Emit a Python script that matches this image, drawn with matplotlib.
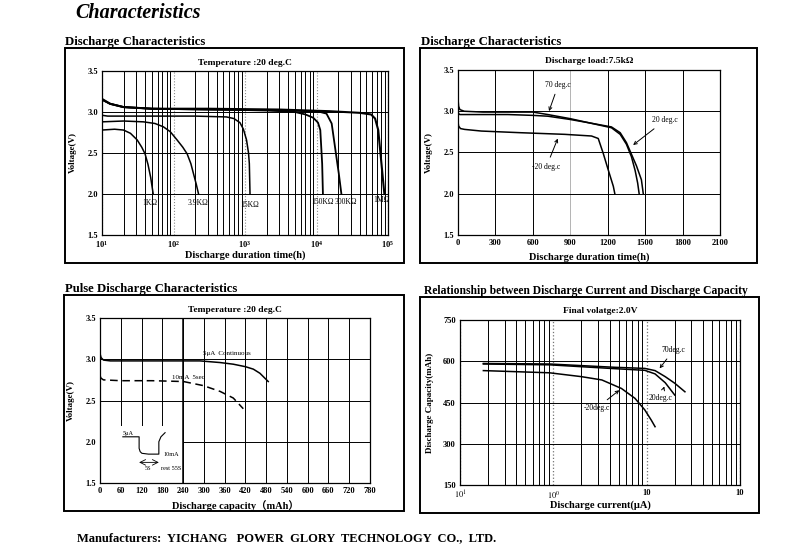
import matplotlib
matplotlib.use("Agg")
import matplotlib.pyplot as plt
from matplotlib.patches import Rectangle
from matplotlib.ticker import LogLocator, NullFormatter, FixedLocator

# ---- data

# discharge at 20 deg.C, several loads: hours, volts
r1k_t = [10, 15, 20, 25, 31, 36, 40, 44, 48, 52]
r1k_v = [2.78, 2.79, 2.78, 2.74, 2.66, 2.57, 2.49, 2.36, 2.20, 2.0]
r39k_t = [10, 20, 38, 55, 72, 90, 112, 135, 155, 175, 190, 208, 224]
r39k_v = [2.88, 2.89, 2.88, 2.86, 2.82, 2.76, 2.66, 2.57, 2.49, 2.37, 2.25, 2.12, 2.0]
r15k_t = [10, 12, 50, 200, 550, 700, 850, 950, 1050, 1120, 1150, 1175]
r15k_v = [2.96, 2.95, 2.95, 2.95, 2.94, 2.92, 2.87, 2.79, 2.66, 2.50, 2.37, 2.0]
r150k_t = [10, 13, 20, 50, 300, 2000, 5000, 7000, 9000, 10500, 11300, 12000, 12300]
r150k_v = [3.15, 3.10, 3.06, 3.04, 3.03, 3.02, 3.0, 2.97, 2.93, 2.87, 2.78, 2.37, 2.0]
r300k_t = [10, 13, 20, 50, 300, 2000, 8000, 11300, 13800, 16300, 19000, 20500, 22300]
r300k_v = [3.15, 3.10, 3.06, 3.04, 3.03, 3.02, 3.01, 3.0, 2.98, 2.86, 2.45, 2.25, 2.0]
r1m_t = [10, 13, 20, 50, 300, 3000, 15000, 40000, 58000, 66000, 73000, 81000, 89000]
r1m_v = [3.16, 3.10, 3.06, 3.04, 3.04, 3.03, 3.01, 2.99, 2.97, 2.92, 2.78, 2.37, 2.0]
load_labels = ["1KΩ", "3.9KΩ", "15KΩ", "150KΩ", "300KΩ", "1MΩ"]
load_label_t = [47, 220, 1170, 12300, 26000, 80000]
load_label_v = [1.89, 1.89, 1.87, 1.90, 1.90, 1.93]

# discharge through 7.5 kOhm at three temperatures: hours, volts
t70 = [0, 5, 15, 50, 200, 400, 600, 720, 900, 1050, 1230, 1300, 1350, 1390, 1430, 1470, 1485]
v70 = [3.15, 3.06, 3.02, 3.0, 2.99, 2.99, 2.99, 2.96, 2.91, 2.86, 2.81, 2.74, 2.62, 2.48, 2.34, 2.17, 2.0]
t20 = [0, 5, 15, 50, 200, 400, 600, 720, 900, 1050, 1230, 1300, 1350, 1390, 1420, 1440, 1452]
v20 = [3.0, 2.97, 2.96, 2.96, 2.96, 2.96, 2.95, 2.94, 2.90, 2.86, 2.80, 2.72, 2.60, 2.45, 2.28, 2.13, 2.0]
tm20 = [0, 5, 20, 53, 187, 500, 856, 1070, 1124, 1164, 1204, 1245, 1257]
vm20 = [2.87, 2.82, 2.79, 2.78, 2.76, 2.74, 2.72, 2.70, 2.67, 2.49, 2.29, 2.09, 2.0]

# pulse discharge: mAh, volts
cap_cont = [0, 3, 10, 30, 100, 200, 289, 347, 385, 420, 443, 462, 486]
v_cont = [3.07, 3.02, 2.99, 2.98, 2.98, 2.98, 2.98, 2.96, 2.94, 2.91, 2.88, 2.83, 2.73]
cap_pulse = [0, 3, 10, 60, 150, 241, 299, 347, 385, 414]
v_pulse = [2.80, 2.77, 2.75, 2.74, 2.74, 2.73, 2.68, 2.61, 2.53, 2.40]
# pulse waveform sketch in the inset
wave_x = [66, 113, 113, 116, 121, 140, 170, 170, 176, 188]
wave_v = [2.06, 2.06, 1.92, 1.88, 1.86, 1.85, 1.85, 2.0, 2.06, 2.11]

# capacity vs current at 2.0 V cut-off: uA, mAh
i70 = [0.178, 0.91, 4.57, 9.55, 12.3, 15.8, 20.0, 25.7]
c70 = [592, 590, 578, 574, 566, 544, 520, 489]
i20 = [0.178, 0.91, 4.57, 9.55, 12.3, 15.8, 20.0]
c20 = [590, 587, 573, 567, 554, 522, 477]
im20 = [0.178, 0.91, 2.0, 3.31, 5.37, 7.5, 9.55, 11.2, 12.3]
cm20 = [566, 558, 544, 532, 501, 465, 423, 386, 362]

volt_ticks = [1.5, 2.0, 2.5, 3.0, 3.5]
cap_ticks = [150, 300, 450, 600, 750]
hour_ticks = [0, 300, 600, 900, 1200, 1500, 1800, 2100]
hour_labels = ["0", "300", "600", "900", "1200", "1500", "1800", "2100"]
mah_ticks = list(range(0, 781, 60))
cur_ticks = [0.1, 1, 10, 100]
cur_labels = ["$10^{1}$", "$10^{0}$", "10", "10"]

# ---- figure, laid out in pixels of the 800x558 original
W, H = 800, 558
plt.rcParams["font.family"] = ["Liberation Serif", "Noto Sans CJK SC", "DejaVu Sans"]
plt.rcParams["mathtext.fontset"] = "stix"
fig = plt.figure(figsize=(8, 5.58), dpi=100)


def box(x0, y0, x1, y1):
    return [x0 / W, 1 - y1 / H, (x1 - x0) / W, (y1 - y0) / H]


def ftext(x, y, s, **kw):
    fig.text(x / W, 1 - y / H, s, **kw)


def frame(x0, y0, x1, y1):
    fig.add_artist(Rectangle((x0 / W, 1 - y1 / H), (x1 - x0) / W, (y1 - y0) / H,
                             transform=fig.transFigure, fill=False, lw=1.4, ec="black"))


def style(ax, ax_px, xlabel, ylabel, xlab_y, ylab_x):
    x0, y0, x1, y1 = ax_px
    ax.tick_params(which="both", length=0, labelsize=6, pad=3)
    for lab in ax.get_yticklabels() + ax.get_xticklabels():
        lab.set_fontweight("bold")
    for sp in ax.spines.values():
        sp.set_linewidth(0.9)
    ax.set_axisbelow(True)
    ax.set_xlabel(xlabel, fontsize=7.5, fontweight="bold")
    ax.set_ylabel(ylabel, fontsize=6.5, fontweight="bold")
    ax.xaxis.set_label_coords(0.5, -(xlab_y - y1) / (y1 - y0))
    ax.yaxis.set_label_coords(-(x0 - ylab_x) / (x1 - x0), 0.5)


def volts(ax):
    ax.set_ylim(1.5, 3.5)
    ax.set_yticks(volt_ticks)
    ax.set_yticklabels([f"{v:.1f}" for v in volt_ticks])
    ax.grid(axis="y", color="black", lw=0.7)


ftext(75, 13, "Characteristics", fontsize=14.5, fontweight="bold", style="italic",
      va="center", ha="left")
ftext(77, 538, "Manufacturers:  YICHANG   POWER  GLORY  TECHNOLOGY  CO.,  LTD.",
      fontsize=9, fontweight="bold", va="center", ha="left")

frame(65, 48, 404, 263)
frame(420, 48, 757, 263)
frame(64, 295, 404, 511)
frame(420, 297, 759, 513)
ftext(65, 42, "Discharge Characteristics", fontsize=9.2, fontweight="bold", va="center")
ftext(421, 42, "Discharge Characteristics", fontsize=9.2, fontweight="bold", va="center")
ftext(65, 289, "Pulse Discharge Characteristics", fontsize=9.2, fontweight="bold", va="center")
ftext(424, 291, "Relationship between Discharge Current and Discharge Capacity",
      fontsize=8.4, fontweight="bold", va="center")

# ---- panel 1: loads on a log time axis
p1 = (102, 71, 388, 235)
ax1 = fig.add_axes(box(*p1))
ax1.set_xscale("log")
ax1.set_xlim(10, 1e5)
volts(ax1)
ax1.xaxis.set_major_locator(LogLocator(base=10, numticks=10))
ax1.xaxis.set_minor_locator(LogLocator(base=10, subs=range(2, 10), numticks=10))
ax1.xaxis.set_minor_formatter(NullFormatter())
ax1.grid(which="minor", axis="x", color="black", lw=0.7)
ax1.grid(which="major", axis="x", color="0.55", lw=0.8, ls=":")
for t, v, lw in [(r1k_t, r1k_v, 1.1), (r39k_t, r39k_v, 1.1), (r15k_t, r15k_v, 1.1),
                 (r150k_t, r150k_v, 1.3), (r300k_t, r300k_v, 1.3), (r1m_t, r1m_v, 1.5)]:
    ax1.plot(t, v, color="black", lw=lw)
for s, t, v in zip(load_labels, load_label_t, load_label_v):
    ax1.text(t, v, s, fontsize=5.5, ha="center", va="center")
ax1.set_title("Temperature :20 deg.C", fontsize=6.8, fontweight="bold", pad=4)
style(ax1, p1, "Discharge duration time(h)", "Voltage(V)", 250, 77)

# ---- panel 2: 7.5 kOhm at three temperatures
p2 = (458, 70, 720, 235)
ax2 = fig.add_axes(box(*p2))
ax2.set_xlim(0, 2100)
volts(ax2)
ax2.set_xticks(hour_ticks)
ax2.set_xticklabels(hour_labels)
ax2.grid(axis="x", color="black", lw=0.7)
ax2.get_xgridlines()[3].set_color("0.7")
ax2.plot(t70, v70, color="black", lw=1.1)
ax2.plot(t20, v20, color="black", lw=1.1)
ax2.plot(tm20, vm20, color="black", lw=1.1)
arrow = dict(arrowstyle="->", lw=0.7, color="black")
ax2.annotate("70 deg.c", xy=(722, 2.97), xytext=(804, 3.32), fontsize=5.5,
             ha="center", va="center", arrowprops=arrow)
ax2.annotate("20 deg.c", xy=(1386, 2.57), xytext=(1659, 2.89), fontsize=5.5,
             ha="center", va="center", arrowprops=arrow)
ax2.annotate("-20 deg.c", xy=(808, 2.70), xytext=(709, 2.33), fontsize=5.5,
             ha="center", va="center", arrowprops=arrow)
ax2.set_title("Discharge load:7.5kΩ", fontsize=6.8, fontweight="bold", pad=5)
style(ax2, p2, "Discharge duration time(h)", "Voltage(V)", 252, 433)

# ---- panel 3: pulse discharge
p3 = (100, 318, 370, 483)
ax3 = fig.add_axes(box(*p3))
ax3.set_xlim(0, 780)
volts(ax3)
ax3.set_xticks(mah_ticks)
ax3.grid(axis="x", color="black", lw=0.7)
ax3.add_patch(Rectangle((0.5, 1.505), 239, 0.68, fc="white", ec="none", zorder=1))
ax3.axvline(240, color="black", lw=1.1, zorder=1.5)
ax3.plot(cap_cont, v_cont, color="black", lw=1.1)
ax3.plot(cap_pulse, v_pulse, color="black", lw=1.1, ls=(0, (5, 3)))
ax3.text(366, 3.07, "5μA  Continuous", fontsize=5, ha="center", va="center")
ax3.text(255, 2.78, "10mA  5sec", fontsize=5, ha="center", va="center")
ax3.plot(wave_x, wave_v, color="black", lw=0.8)
ax3.text(66, 2.10, "5μA", fontsize=4.5, ha="left", va="center")
ax3.text(205, 1.84, "10mA", fontsize=4.5, ha="center", va="center")
ax3.annotate("", xy=(113, 1.75), xytext=(170, 1.75),
             arrowprops=dict(arrowstyle="<->", lw=0.6, shrinkA=0, shrinkB=0))
ax3.text(139, 1.68, "5S", fontsize=4.5, ha="center", va="center")
ax3.text(205, 1.68, "rest 55S", fontsize=4.5, ha="center", va="center")
ax3.set_title("Temperature :20 deg.C", fontsize=6.8, fontweight="bold", pad=4)
style(ax3, p3, "Discharge capacity（mAh）", "Voltage(V)", 500, 75)

# ---- panel 4: capacity vs current
p4 = (460, 320, 740, 485)
ax4 = fig.add_axes(box(*p4))
ax4.set_xscale("log")
ax4.set_xlim(0.1, 100)
ax4.set_ylim(150, 750)
ax4.set_yticks(cap_ticks)
ax4.set_yticklabels([str(c) for c in cap_ticks])
ax4.xaxis.set_major_locator(FixedLocator(cur_ticks))
ax4.set_xticklabels(cur_labels)
ax4.xaxis.set_minor_locator(LogLocator(base=10, subs=range(2, 10), numticks=10))
ax4.xaxis.set_minor_formatter(NullFormatter())
ax4.grid(which="minor", axis="x", color="black", lw=0.7)
ax4.grid(which="major", axis="x", color="0.45", lw=0.9, ls=":")
ax4.grid(axis="y", color="black", lw=0.7)
ax4.plot(i70, c70, color="black", lw=1.1)
ax4.plot(i20, c20, color="black", lw=1.1)
ax4.plot(im20, cm20, color="black", lw=1.1)
ax4.annotate("70deg.c", xy=(13.2, 566), xytext=(19.5, 641), fontsize=5.5,
             ha="center", va="center", arrowprops=arrow)
ax4.annotate("20deg.c", xy=(15.8, 518), xytext=(14.0, 465), fontsize=5.5,
             ha="center", va="center", arrowprops=arrow)
ax4.annotate("-20deg.c", xy=(5.37, 501), xytext=(2.9, 429), fontsize=5.5,
             ha="center", va="center", arrowprops=arrow)
ax4.set_title("Final volatge:2.0V", fontsize=6.8, fontweight="bold", pad=5)
style(ax4, p4, "Discharge current(μA)", "Discharge Capacity(mAh)", 500, 434)

fig.savefig("out.png", dpi=100)
